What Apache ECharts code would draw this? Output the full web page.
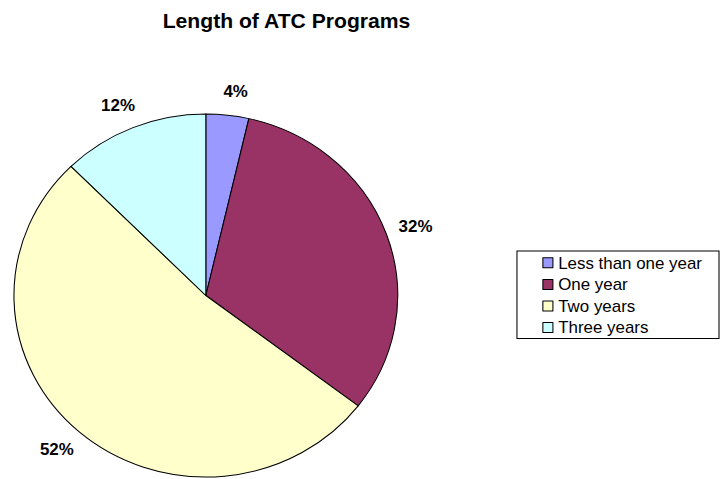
<!DOCTYPE html>
<html>
<head>
<meta charset="utf-8">
<script src="https://cdn.jsdelivr.net/npm/echarts@6/dist/echarts.min.js"></script>
<style>
  html, body { margin: 0; padding: 0; background: #fff; overflow: hidden; }
  #wrap { width: 721px; height: 479px; overflow: hidden; }
  #chart { width: 682px; height: 479px; transform: scaleX(1.0572); transform-origin: 0 0; }
</style>
</head>
<body>
<div id="wrap"><div id="chart"></div></div>
<script>
const titleText = 'Length of ATC Programs';
const categories = ['Less than one year', 'One year', 'Two years', 'Three years'];
const values = [3.6, 31.8, 52.2, 12.4];
const colors = ['#9999FF', '#993366', '#FFFFCC', '#CCFFFF'];

const chart = echarts.init(document.getElementById('chart'), null, { renderer: 'svg' });
chart.setOption({
  animation: false,
  color: colors,
  title: {
    text: titleText,
    left: 266,
    top: 6,
    textAlign: 'center',
    textStyle: { fontFamily: 'Liberation Sans', fontWeight: 'bold', fontSize: 20, color: '#000' }
  },
  legend: {
    orient: 'vertical',
    left: 489,
    top: 251,
    padding: [1, 16, 0, 24],
    itemGap: 0,
    itemWidth: 9.5,
    itemHeight: 10,
    icon: 'rect',
    borderColor: '#000',
    borderWidth: 1,
    borderRadius: 0,
    itemStyle: { borderColor: '#000', borderWidth: 1 },
    textStyle: { fontFamily: 'Liberation Sans', fontSize: 16, color: '#000', lineHeight: 21.6 },
    data: categories
  },
  series: [{
    type: 'pie',
    center: [194.7, 295.5],
    radius: 181.5,
    startAngle: 90,
    clockwise: true,
    avoidLabelOverlap: false,
    itemStyle: { borderColor: '#000', borderWidth: 1 },
    emphasis: { disabled: true },
    label: {
      show: true,
      position: 'outside',
      formatter: p => Math.round(p.percent) + '%',
      fontFamily: 'Liberation Sans',
      fontWeight: 'bold',
      fontSize: 16,
      color: '#000'
    },
    labelLine: { show: false, length: 24, length2: 0 },
    labelLayout: { align: 'center', verticalAlign: 'middle' },
    data: categories.map((c, i) => ({ name: c, value: values[i] }))
  }]
});
</script>
</body>
</html>
